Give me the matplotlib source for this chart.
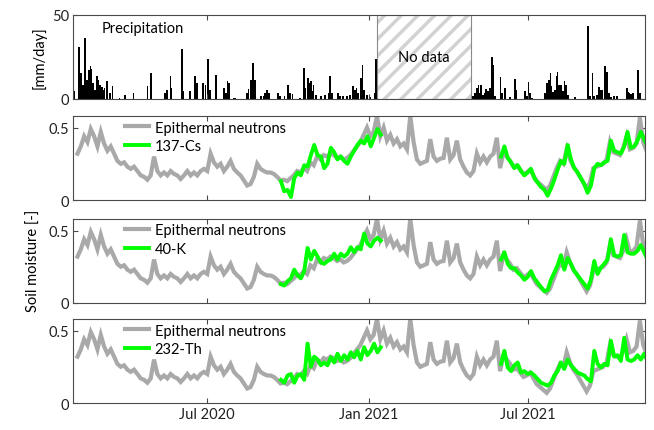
#!/usr/bin/env python3
"""Precipitation and soil moisture from epithermal neutrons vs. gamma-ray
nuclides (137-Cs, 40-K, 232-Th), Feb 2020 -- Nov 2021."""

import matplotlib
matplotlib.use("Agg")
import matplotlib.dates as mdates
import matplotlib.pyplot as plt
import pandas as pd

plt.rcParams["font.family"] = ["Lato", "DejaVu Sans"]
plt.rcParams["hatch.linewidth"] = 2.5

# -------------------------------------------------------------------------
# Data
# -------------------------------------------------------------------------
precip_dates = [
    "2020-01-31", "2020-02-06", "2020-02-08", "2020-02-10", "2020-02-13",
    "2020-02-15", "2020-02-17", "2020-02-18", "2020-02-19", "2020-02-20",
    "2020-02-22", "2020-02-24", "2020-02-26", "2020-02-28", "2020-03-01",
    "2020-03-03", "2020-03-04", "2020-03-06", "2020-03-09", "2020-03-12",
    "2020-03-15", "2020-03-23", "2020-03-29", "2020-04-08", "2020-04-24",
    "2020-04-28", "2020-05-14", "2020-05-16", "2020-05-20", "2020-05-21",
    "2020-06-02", "2020-06-04", "2020-06-11", "2020-06-17", "2020-06-19",
    "2020-06-26", "2020-06-29", "2020-07-02", "2020-07-04", "2020-07-11",
    "2020-07-20", "2020-07-22", "2020-07-24", "2020-07-26", "2020-07-31",
    "2020-08-02", "2020-08-15", "2020-08-17", "2020-08-20", "2020-08-22",
    "2020-08-24", "2020-08-25", "2020-08-31", "2020-09-03", "2020-09-05",
    "2020-09-07", "2020-09-09", "2020-09-20", "2020-09-22", "2020-09-27",
    "2020-10-01", "2020-10-03", "2020-10-06", "2020-10-15", "2020-10-19",
    "2020-10-21", "2020-10-24", "2020-10-25", "2020-10-27", "2020-10-29",
    "2020-10-30", "2020-11-02", "2020-11-08", "2020-11-12", "2020-11-16",
    "2020-11-18", "2020-11-20", "2020-11-27", "2020-11-29", "2020-12-03",
    "2020-12-07", "2020-12-11", "2020-12-14", "2020-12-16", "2020-12-18",
    "2020-12-20", "2020-12-23", "2020-12-25", "2020-12-27", "2020-12-30",
    "2021-01-03", "2021-01-08", "2021-01-09",
    "2021-04-30", "2021-05-02", "2021-05-04", "2021-05-06", "2021-05-08",
    "2021-05-09", "2021-05-11", "2021-05-13", "2021-05-15", "2021-05-17",
    "2021-05-19", "2021-05-21", "2021-05-23", "2021-05-25", "2021-05-31",
    "2021-06-02", "2021-06-05", "2021-06-11", "2021-06-17", "2021-06-18",
    "2021-06-28", "2021-06-30", "2021-07-02", "2021-07-04", "2021-07-06",
    "2021-07-21", "2021-07-23", "2021-07-25", "2021-07-27", "2021-07-28",
    "2021-07-30", "2021-08-01", "2021-08-03", "2021-08-04", "2021-08-06",
    "2021-08-08", "2021-08-10", "2021-08-12", "2021-08-14", "2021-08-16",
    "2021-08-24", "2021-09-08", "2021-09-10", "2021-09-13", "2021-09-15",
    "2021-09-18", "2021-09-20", "2021-09-22", "2021-09-24", "2021-09-27",
    "2021-09-28", "2021-09-30", "2021-10-02", "2021-10-04", "2021-10-07",
    "2021-10-11", "2021-10-22", "2021-10-24", "2021-10-25", "2021-10-27",
    "2021-10-29", "2021-11-04", "2021-11-06",
]
precip_mm = [
    4.6, 31, 15.5, 8.5, 36,
    11.5, 17.5, 16, 19.5, 18,
    9.5, 5.6, 13.5, 11.5, 8.5,
    7, 5.6, 6.5, 10.5, 3.6,
    7.5, 0.6, 2.6, 3.6, 7.5,
    15.5, 3.6, 5.6, 13.5, 6.5,
    30, 4.6, 4.6, 13.5, 9.5,
    9.5, 8.5, 24, 5.6, 14,
    6.5, 3.6, 10.5, 9.5, 0.6,
    0.6, 3.6, 6, 11.5, 21.4,
    11.5, 5.6, 1.6, 2, 3.6,
    5.6, 3.6, 3.6, 2, 1.6,
    8.5, 3.6, 3.2, 0.6, 18.5,
    6.5, 12.5, 9.5, 10.5, 4.6,
    8.5, 2.6, 1.6, 2.6, 3.6,
    13.5, 3.6, 3.6, 1.6, 2,
    2, 2.6, 7.5, 5.6, 6.5,
    3.6, 12.5, 20.4, 5.6, 2.6,
    1.2, 3.6, 24,
    2, 3.6, 6.5, 8.5, 3.6,
    8.5, 2.6, 3.6, 6, 4.6,
    6.5, 25, 20.4, 1.6, 13,
    3.6, 6.5, 1.2, 12, 5.6,
    4.6, 2, 10, 3.6, 0.6,
    3.6, 9.5, 11.5, 15.5, 7.5,
    4, 5.6, 13.5, 16, 8.5,
    8.5, 4.6, 10.5, 8.5, 2.6,
    1.2, 43.6, 1.6, 15.5, 1.6,
    2.6, 7, 5.6, 5.6, 19.5,
    16, 16, 3.6, 1.2, 1.6,
    2, 6.5, 4, 3.6, 3.2,
    3.6, 17.5, 3.6,
]
no_data_span = ("2021-01-10", "2021-04-28")

# soil moisture series share one sampling step (about 3.8 days)
step = "91h"
neutron_start = "2020-02-04 03:00"
neutron_sm = [
    0.32, 0.37, 0.44, 0.40, 0.49, 0.44, 0.37, 0.47, 0.39, 0.34,
    0.37, 0.32, 0.27, 0.25, 0.26, 0.23, 0.215, 0.23, 0.20, 0.17,
    0.16, 0.14, 0.17, 0.30, 0.20, 0.17, 0.19, 0.17, 0.20, 0.18,
    0.17, 0.145, 0.17, 0.20, 0.17, 0.19, 0.17, 0.20, 0.215, 0.20,
    0.32, 0.26, 0.23, 0.25, 0.20, 0.23, 0.27, 0.215, 0.19, 0.17,
    0.135, 0.10, 0.11, 0.16, 0.25, 0.215, 0.20, 0.19, 0.19, 0.18,
    0.16, 0.135,
    0.14, 0.13, 0.15, 0.17, 0.20, 0.19, 0.22, 0.20, 0.26, 0.24,
    0.30, 0.28, 0.31, 0.30, 0.32,
    0.31, 0.29, 0.30, 0.28, 0.29, 0.31, 0.34, 0.37, 0.40, 0.45,
    0.50, 0.44, 0.47, 0.58,
    0.44, 0.50, 0.41, 0.45, 0.39, 0.42, 0.37, 0.39, 0.35, 0.58,
    0.40, 0.28, 0.25, 0.26, 0.27, 0.42, 0.30, 0.27, 0.285, 0.29,
    0.43, 0.28, 0.31, 0.41, 0.28, 0.23, 0.19, 0.17, 0.20, 0.32,
    0.26, 0.30, 0.26, 0.30, 0.32, 0.43, 0.22,
    0.33, 0.30, 0.27, 0.23, 0.24, 0.21, 0.18, 0.19, 0.21, 0.17,
    0.13, 0.11, 0.09, 0.07, 0.10, 0.16, 0.22, 0.27, 0.25, 0.35,
    0.28, 0.23, 0.20, 0.16, 0.12, 0.08, 0.12, 0.22, 0.23, 0.24,
    0.25, 0.28, 0.40, 0.33, 0.32, 0.31, 0.36, 0.44, 0.35, 0.36,
    0.39, 0.57, 0.40, 0.34,
]

gamma_start_1 = "2020-09-22 22:00"
gamma_start_2 = "2021-05-31 18:00"

cs_sm_1 = [
    0.13, 0.06, 0.07, 0.02, 0.15, 0.19, 0.17, 0.24, 0.23, 0.31,
    0.38, 0.31, 0.30, 0.22, 0.25, 0.36, 0.33, 0.28, 0.30, 0.27,
    0.25, 0.30, 0.34, 0.38, 0.41, 0.39, 0.44, 0.37, 0.43, 0.49, 0.45,
]
cs_sm_2 = [
    0.30, 0.37, 0.29, 0.26, 0.22, 0.24, 0.20, 0.17, 0.19, 0.215,
    0.15, 0.12, 0.09, 0.07, 0.03, 0.08, 0.14, 0.21, 0.27, 0.25,
    0.38, 0.28, 0.22, 0.19, 0.15, 0.11, 0.05, 0.10, 0.22, 0.25,
    0.24, 0.26, 0.27, 0.41, 0.34, 0.33, 0.32, 0.37, 0.47, 0.36,
    0.37, 0.41, 0.47, 0.42, 0.37,
]
k_sm_1 = [
    0.13, 0.12, 0.15, 0.17, 0.23, 0.19, 0.17, 0.22, 0.38, 0.30,
    0.36, 0.32, 0.28, 0.27, 0.29, 0.30, 0.34, 0.30, 0.34, 0.32,
    0.34, 0.385, 0.35, 0.385, 0.37, 0.48, 0.41, 0.39, 0.43, 0.45, 0.43,
]
k_sm_2 = [
    0.30, 0.35, 0.27, 0.24, 0.24, 0.21, 0.19, 0.16, 0.18, 0.22,
    0.17, 0.14, 0.11, 0.08, 0.09, 0.16, 0.21, 0.26, 0.33, 0.23,
    0.31, 0.27, 0.22, 0.19, 0.16, 0.13, 0.10, 0.16, 0.29, 0.20,
    0.245, 0.27, 0.30, 0.44, 0.33, 0.32, 0.33, 0.47, 0.35, 0.34,
    0.34, 0.36, 0.40, 0.35, 0.30,
]
th_sm_1 = [
    0.16, 0.14, 0.19, 0.20, 0.14, 0.19, 0.20, 0.16, 0.41, 0.25,
    0.32, 0.30, 0.26, 0.28, 0.26, 0.315, 0.28, 0.34, 0.29, 0.33,
    0.30, 0.35, 0.315, 0.36, 0.30, 0.385, 0.33, 0.36, 0.41, 0.35, 0.385,
]
th_sm_2 = [
    0.27, 0.36, 0.245, 0.22, 0.26, 0.28, 0.21, 0.22, 0.20, 0.21,
    0.19, 0.165, 0.14, 0.13, 0.12, 0.14, 0.19, 0.22, 0.28, 0.235,
    0.30, 0.26, 0.235, 0.21, 0.20, 0.19, 0.165, 0.15, 0.36, 0.27,
    0.245, 0.27, 0.26, 0.43, 0.32, 0.33, 0.29, 0.45, 0.30, 0.29,
    0.30, 0.33, 0.30, 0.34, 0.29,
]
nuclide_labels = ["137-Cs", "40-K", "232-Th"]

x_range = ("2020-01-30", "2021-11-12")
tick_dates = ["2020-07-01", "2021-01-01", "2021-07-01"]

GREY = "#a9a9a9"
GREEN = "#00ff00"
FRAME = "#4a4a4a"


def style_axis(ax):
    for sp in ax.spines.values():
        sp.set_color(FRAME)
        sp.set_linewidth(0.8)
    ax.tick_params(direction="in", top=True, right=True, length=3.5,
                   width=0.8, color=FRAME, labelsize=10.5, pad=3,
                   labelcolor="#222222")
    ax.set_xlim(pd.Timestamp(x_range[0]), pd.Timestamp(x_range[1]))
    ax.set_xticks(pd.to_datetime(tick_dates))
    ax.xaxis.set_major_formatter(mdates.DateFormatter("%b %Y"))


def main():
    fig = plt.figure(figsize=(6.54, 4.31), dpi=100)
    left, width = 0.1116, 0.875
    ax_p = fig.add_axes([left, 0.768, width, 0.195])
    soil_axes = [fig.add_axes([left, b, width, 0.195])
                 for b in (0.5336, 0.2947, 0.0626)]

    # --- precipitation ---------------------------------------------------
    ax_p.bar(pd.to_datetime(precip_dates), precip_mm, width=2.0,
             color="black", linewidth=0)
    ax_p.axvspan(pd.Timestamp(no_data_span[0]), pd.Timestamp(no_data_span[1]),
                 facecolor="white", edgecolor="#d2d2d2", hatch="//", lw=0)
    ax_p.axvspan(pd.Timestamp(no_data_span[0]), pd.Timestamp(no_data_span[1]),
                 fill=False, edgecolor="#8a8a8a", lw=0.8)
    mid = pd.Timestamp(no_data_span[0]) + (pd.Timestamp(no_data_span[1])
                                           - pd.Timestamp(no_data_span[0])) / 2
    ax_p.text(mid, 25, "No data", ha="center", va="center", fontsize=10.5)
    ax_p.text(0.05, 0.845, "Precipitation", transform=ax_p.transAxes,
              ha="left", va="center", fontsize=10.5)
    ax_p.set_ylim(0, 50)
    ax_p.set_yticks([0, 50])
    ax_p.set_ylabel("[mm/day]", fontsize=10.5, labelpad=4)
    style_axis(ax_p)
    ax_p.tick_params(labelbottom=False)

    # --- soil moisture panels --------------------------------------------
    t_neu = pd.date_range(neutron_start, periods=len(neutron_sm), freq=step)
    gamma = [(cs_sm_1, cs_sm_2), (k_sm_1, k_sm_2), (th_sm_1, th_sm_2)]
    for i, (ax, (seg1, seg2), lab) in enumerate(zip(soil_axes, gamma,
                                                  nuclide_labels)):
        ax.plot(t_neu, neutron_sm, color=GREY, lw=3.0,
                label="Epithermal neutrons", solid_joinstyle="miter")
        t1 = pd.date_range(gamma_start_1, periods=len(seg1), freq=step)
        t2 = pd.date_range(gamma_start_2, periods=len(seg2), freq=step)
        ax.plot(t1, seg1, color=GREEN, lw=2.8, label=lab)
        ax.plot(t2, seg2, color=GREEN, lw=2.8)
        ax.set_ylim(0, 0.58)
        ax.set_yticks([0, 0.5])
        ax.set_yticklabels(["0", "0.5"])
        style_axis(ax)
        if i < 2:
            ax.tick_params(labelbottom=False)
        ax.legend(loc="upper left", bbox_to_anchor=(0.075, 1.05),
                  frameon=False, fontsize=10.5, handlelength=1.7,
                  handletextpad=0.35, labelspacing=0.3, borderaxespad=0.2)

    fig.text(0.052, 0.395, "Soil moisture [-]", rotation=90, ha="center",
             va="center", fontsize=10.5)

    fig.savefig("out.png", dpi=100)


if __name__ == "__main__":
    main()
